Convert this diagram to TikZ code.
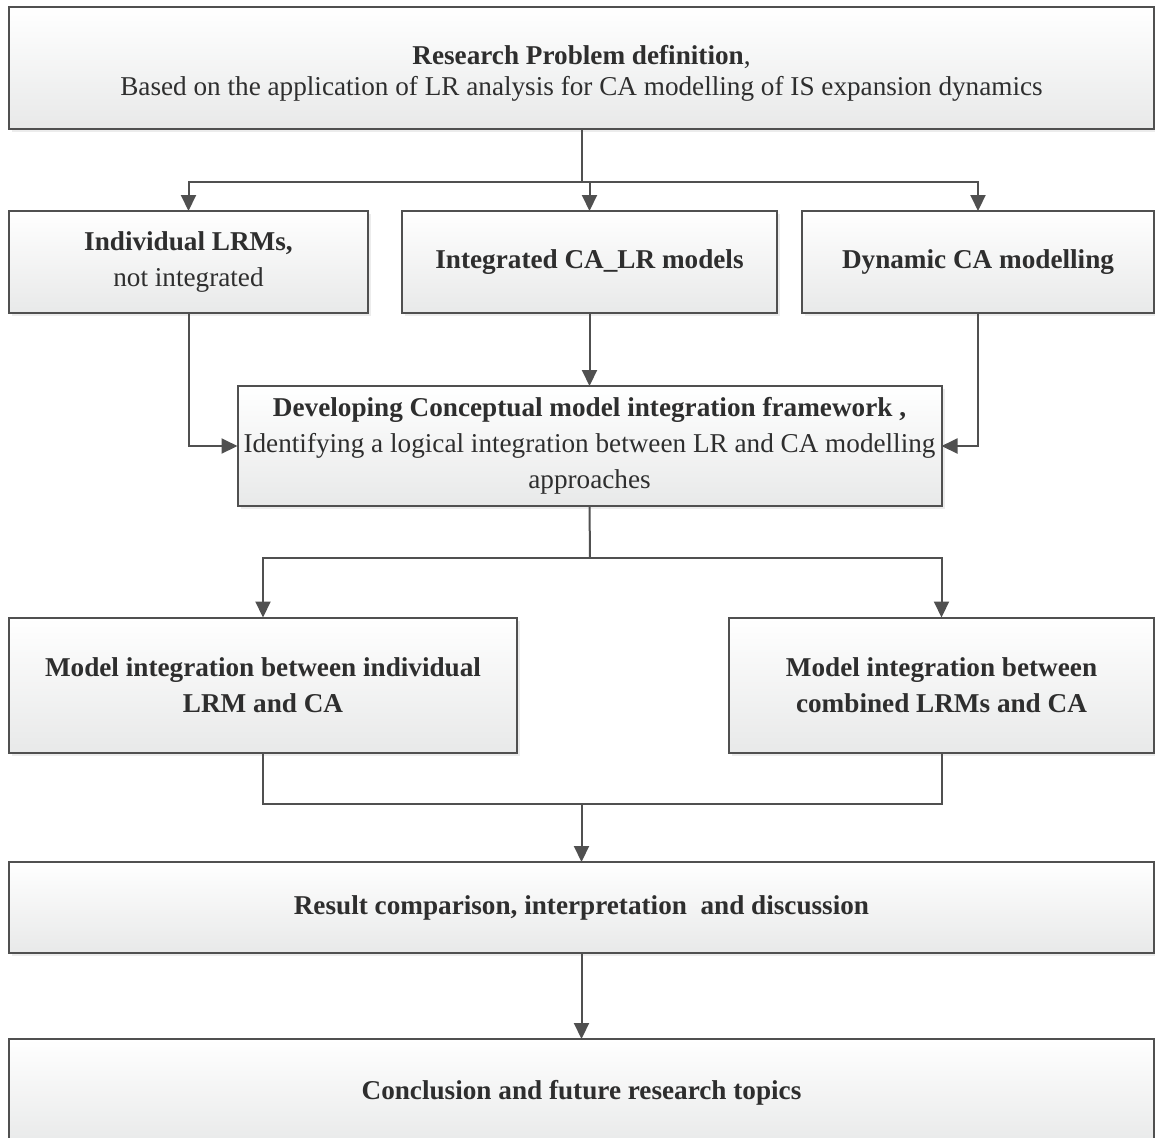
\documentclass[tikz,border=0pt]{standalone}
\usepackage{fontspec}
\setmainfont{Liberation Serif}
\usetikzlibrary{arrows.meta,positioning,shadows}

\definecolor{linegray}{HTML}{505050}
\definecolor{textgray}{HTML}{2E2E2E}
\definecolor{fillgray}{HTML}{E8E9E9}

\begin{document}
\begin{tikzpicture}[
		x=0.5pt, y=-0.5pt,
		>={Triangle[length=8pt,width=7.5pt]},
		box/.style={
			draw=linegray,
			line width=1pt,
			top color=white,
			bottom color=fillgray,
			drop shadow={shadow xshift=1.5pt, shadow yshift=-1.5pt, opacity=0.15},
			text=textgray,
			font=\fontsize{13.6}{18}\selectfont,
			inner sep=2pt,
			outer sep=0pt,
			align=center
		},
		link/.style={draw=linegray, line width=1pt}
		]
		
		\useasboundingbox (0,0) rectangle (1155,1137);
		
		% Problem definition at the top
		\node[box, minimum width=572.5pt, minimum height=61pt] (prob) at (581.5,68) {%
			\rule{0pt}{15pt}\textbf{Research Problem definition},\\[-2.5pt]
			Based on the application of LR analysis for CA modelling of IS expansion dynamics
		};
		
		% Three model families in a row
		\node[box, below=41pt of prob, xshift=4pt, minimum width=187.5pt, minimum height=51pt] (integ) {\textbf{Integrated CA\_LR models}};
		\node[box, left=17pt of integ, minimum width=179.5pt, minimum height=51pt] (indiv) {%
			\textbf{Individual LRMs,}\\
			not integrated
		};
		\node[box, right=12.5pt of integ, minimum width=176pt, minimum height=51pt] (dyn) {\textbf{Dynamic CA modelling}};
		
		% Conceptual framework in the middle
		\node[box, below=36.5pt of integ, minimum width=352pt, minimum height=60pt] (frame) {%
			\textbf{Developing Conceptual model integration framework ,}\\
			Identifying a logical integration between LR and CA modelling\\
			approaches
		};
		
		% Two integration routes
		\node[box, minimum width=254pt, minimum height=67.5pt] (route1) at (263,685) {%
			\textbf{Model integration between individual}\\
			\textbf{LRM and CA}
		};
		\node[box, minimum width=212.5pt, minimum height=67.5pt] (route2) at (941.5,685) {%
			\textbf{Model integration between}\\
			\textbf{combined LRMs and CA}
		};
		
		% Results and conclusion at the bottom
		\node[box, minimum width=572.5pt, minimum height=45.5pt] (result) at (581.5,907.5) {\textbf{Result comparison, interpretation\ \ and discussion}};
		\node[box, below=43pt of result, minimum width=572.5pt, minimum height=54pt] (concl) {\textbf{Conclusion and future research topics}};
		
		% Problem splits into the three rows
		\coordinate (split1) at (581.5,182);
		\draw[link] (prob.south) -- (split1);
		\draw[link, ->] (split1) -| (indiv.north);
		\draw[link, ->] (split1) -| (dyn.north);
		\draw[link, ->] (split1 -| integ.north) -- (integ.north);
		
		% Rows feed the framework
		\draw[link, ->] (integ.south) -- (frame.north);
		\draw[link, ->] (indiv.south) |- (frame.west);
		\draw[link, ->] (dyn.south) |- (frame.east);
		
		% Framework splits into two routes
		\coordinate (split2) at (590,558);
		\draw[link] (frame.south) -- (split2);
		\draw[link, ->] (split2) -| (route1.north);
		\draw[link, ->] (split2) -| (route2.north);
		
		% Routes merge into the results
		\coordinate (merge) at (581.5,804);
		\draw[link] (route1.south) |- (merge);
		\draw[link] (route2.south) |- (merge);
		\draw[link, ->] (merge) -- (result.north);
		\draw[link, ->] (result.south) -- (concl.north);
		
	\end{tikzpicture}
\end{document}
